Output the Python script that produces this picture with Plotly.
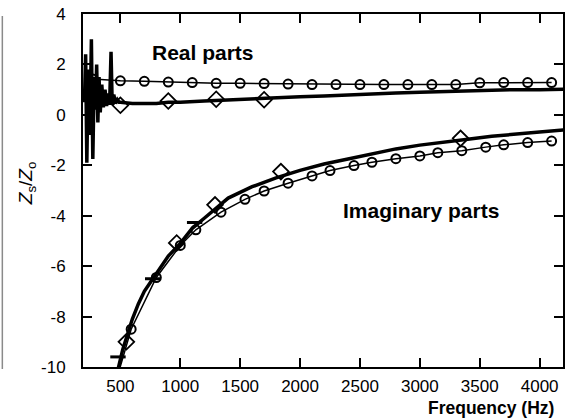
import plotly.graph_objects as go

# ---- data ----
# Real part, thin line with circles
real_c_f = [270, 500, 700, 900, 1100, 1300, 1500, 1700, 1900, 2100, 2300, 2500,
            2700, 2900, 3100, 3300, 3500, 3700, 3900, 4100]
real_c_v = [1.42, 1.35, 1.33, 1.3, 1.28, 1.25, 1.25, 1.24, 1.22, 1.2, 1.2, 1.2,
            1.2, 1.2, 1.2, 1.2, 1.27, 1.28, 1.28, 1.28]

# Real part, thick (noisy measured) line
real_t_f = [200, 210, 220, 232, 245, 258, 270, 282, 292, 302, 312, 322, 332, 345,
            358, 372, 385, 398, 410, 422, 432, 445, 460, 475, 490, 500, 600, 700,
            800, 900, 1000, 1200, 1400, 1600, 1800, 2000, 2200, 2400, 2600, 2800,
            3000, 3200, 3400, 3600, 3800, 4000, 4200]
real_t_v = [0.5, 2.4, -1.9, 1.8, -0.8, 3.0, -1.75, 1.5, 0.2, 2.0, -0.3, 1.5, 0.1, 1.2,
            0.3, 1.0, 0.35, 0.85, 0.4, 2.5, 0.4, 0.8, 0.45, 0.6, 0.5, 0.5, 0.45, 0.45,
            0.45, 0.5, 0.5, 0.55, 0.6, 0.62, 0.68, 0.72, 0.75, 0.8, 0.83, 0.87,
            0.9, 0.93, 0.96, 0.98, 1.0, 1.0, 1.02]

# Real part diamonds
real_d_f = [500, 900, 1300, 1700]
real_d_v = [0.38, 0.55, 0.62, 0.6]

# Imaginary part, thin line with circles
imag_c_f = [480, 590, 800, 1000, 1130, 1340, 1540, 1700, 1900, 2100, 2250, 2450,
            2600, 2800, 3000, 3150, 3350, 3550, 3700, 3900, 4100]
imag_c_v = [-10.3, -8.5, -6.45, -5.18, -4.56, -3.86, -3.35, -3.02, -2.71, -2.42,
            -2.21, -2.01, -1.88, -1.74, -1.63, -1.5, -1.42, -1.28, -1.19, -1.1, -1.04]

# Imaginary part, thick line
imag_t_f = [470, 520, 560, 600, 650, 700, 750, 800, 900, 1000, 1100, 1200, 1300,
            1400, 1600, 1800, 2000, 2200, 2400, 2600, 2800, 3000, 3200, 3400, 3600,
            3800, 4000, 4200]
imag_t_v = [-10.3, -9.3, -8.7, -8.1, -7.5, -7.0, -6.65, -6.3, -5.6, -5.1, -4.5, -4.1,
            -3.7, -3.3, -2.85, -2.5, -2.2, -1.95, -1.75, -1.55, -1.35, -1.2, -1.1,
            -0.97, -0.85, -0.75, -0.68, -0.6]

# Imaginary part diamonds
imag_d_f = [550, 970, 1290, 1840, 3340]
imag_d_v = [-9.0, -5.08, -3.57, -2.25, -0.93]

# Dash marks on the imaginary thick curve
dash_f = [480, 770, 1120]
dash_v = [-9.6, -6.5, -4.27]

x_ticks = [500, 1000, 1500, 2000, 2500, 3000, 3500, 4000]
x_labels = ["500", "1000", "1500", "2000", "2500", "3000", "3500", "4000"]
y_ticks = [4, 2, 0, -2, -4, -6, -8, -10]
y_labels = ["4", "2", "0", "-2", "-4", "-6", "-8", "-10"]

FONT = "Liberation Sans, Arial, sans-serif"

fig = go.Figure()
fig.add_trace(go.Scatter(x=real_t_f, y=real_t_v, mode="lines",
                         line=dict(color="black", width=3.5)))
fig.add_trace(go.Scatter(x=imag_t_f, y=imag_t_v, mode="lines",
                         line=dict(color="black", width=3.5)))
fig.add_trace(go.Scatter(x=real_c_f, y=real_c_v, mode="lines+markers",
                         line=dict(color="black", width=1.5),
                         marker=dict(symbol="circle-open", size=9, color="black",
                                     line=dict(width=2, color="black"))))
fig.add_trace(go.Scatter(x=imag_c_f, y=imag_c_v, mode="lines+markers",
                         line=dict(color="black", width=1.5),
                         marker=dict(symbol="circle-open", size=9, color="black",
                                     line=dict(width=2, color="black"))))
fig.add_trace(go.Scatter(x=real_d_f, y=real_d_v, mode="markers",
                         marker=dict(symbol="diamond-open", size=12, color="black",
                                     line=dict(width=1.8, color="black"))))
fig.add_trace(go.Scatter(x=imag_d_f, y=imag_d_v, mode="markers",
                         marker=dict(symbol="diamond-open", size=12, color="black",
                                     line=dict(width=1.8, color="black"))))
fig.add_trace(go.Scatter(x=dash_f, y=dash_v, mode="markers",
                         marker=dict(symbol="line-ew-open", size=11, color="black",
                                     line=dict(width=3, color="black"))))

fig.update_layout(
    width=568, height=420,
    margin=dict(l=83, r=3, t=14, b=53),
    paper_bgcolor="white", plot_bgcolor="white",
    showlegend=False,
    font=dict(family=FONT, size=17, color="black"),
    xaxis=dict(range=[188, 4195], tickvals=x_ticks, ticktext=x_labels,
               ticks="inside", ticklen=9,
               tickwidth=2, tickcolor="black", showline=True, linewidth=2,
               linecolor="black", mirror="ticks", showgrid=False, zeroline=False,
               tickfont=dict(size=17, color="black"), ticklabelstandoff=3),
    yaxis=dict(range=[-10, 4], tickvals=y_ticks, ticktext=y_labels,
               ticks="inside", ticklen=9,
               tickwidth=2, tickcolor="black", showline=True, linewidth=2,
               linecolor="black", mirror="ticks", showgrid=False, zeroline=False,
               tickfont=dict(size=17, color="black"), ticklabelstandoff=12),
    annotations=[
        dict(text="<b>Real parts</b>", xref="paper", yref="paper",
             x=(203 - 83) / 482, y=(367 - 52) / 353, xanchor="center",
             yanchor="middle", showarrow=False,
             font=dict(size=21, family=FONT, color="black")),
        dict(text="<b>Imaginary parts</b>", xref="paper", yref="paper",
             x=(422 - 83) / 482, y=(367 - 210) / 353, xanchor="center",
             yanchor="middle", showarrow=False,
             font=dict(size=21, family=FONT, color="black")),
        dict(text="<b>Frequency (Hz)</b>", xref="paper", yref="paper",
             x=(558 - 83) / 482, y=(367 - 408) / 353, xanchor="right",
             yanchor="middle", showarrow=False,
             font=dict(size=17.5, family=FONT, color="black")),
        dict(text="<i>Z</i><sub>s</sub>/<i>Z</i><sub>o</sub>", xref="paper",
             yref="paper", x=(27 - 83) / 482, y=(367 - 183) / 353, textangle=-90,
             xanchor="center", yanchor="middle", showarrow=False,
             font=dict(size=19, family=FONT, color="black")),
    ],
    shapes=[
        dict(type="line", xref="paper", yref="paper",
             x0=(2 - 83) / 482, x1=(2 - 83) / 482,
             y0=(367 - 16) / 353, y1=(367 - 369) / 353,
             line=dict(color="#8a8a8a", width=1.5)),
    ],
)

fig.write_html("out.html", config={"displayModeBar": False},
               post_script="document.body.style.margin='0';document.body.style.padding='0';")
